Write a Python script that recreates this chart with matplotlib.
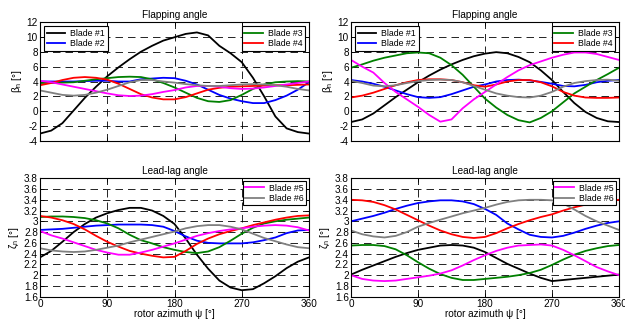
import numpy as np
import matplotlib
matplotlib.use("Agg")
import matplotlib.pyplot as plt
from matplotlib.ticker import FuncFormatter

psi = list(range(0, 361, 15))

# ---- Flapping angle, left panel ----
flap_left = {
    "Blade #1": [-3.0, -2.6, -1.6, 0.1, 1.8, 3.3, 4.7, 5.9, 7.0, 8.0, 8.8, 9.5, 9.95,
                 10.4, 10.6, 10.2, 8.8, 7.8, 6.6, 4.5, 2.0, -0.7, -2.3, -2.8, -3.0],
    "Blade #2": [4.0, 4.0, 4.0, 4.0, 4.05, 4.1, 4.1, 4.0, 4.0, 4.3, 4.4, 4.5, 4.45,
                 4.1, 3.6, 2.9, 2.2, 1.7, 1.35, 1.1, 1.1, 1.5, 2.1, 2.9, 3.9],
    "Blade #3": [3.8, 3.8, 3.85, 3.9, 4.1, 4.3, 4.45, 4.6, 4.65, 4.6, 4.3, 3.8, 3.2,
                 2.5, 1.8, 1.35, 1.25, 1.5, 2.2, 3.0, 3.6, 3.9, 4.0, 4.05, 4.0],
    "Blade #4": [3.5, 3.8, 4.2, 4.5, 4.6, 4.5, 4.25, 3.7, 3.0, 2.3, 1.85, 1.6, 1.6,
                 1.9, 2.4, 2.9, 3.15, 3.3, 3.35, 3.4, 3.45, 3.5, 3.5, 3.55, 3.6],
    "Blade #5": [4.1, 3.9, 3.6, 3.3, 3.0, 2.7, 2.4, 2.15, 2.05, 2.1, 2.3, 2.6, 2.85,
                 3.2, 3.4, 3.4, 3.3, 3.1, 3.0, 3.05, 3.2, 3.4, 3.6, 3.8, 4.0],
    "Blade #6": [2.8, 2.5, 2.2, 2.1, 2.2, 2.5, 2.9, 3.4, 3.9, 4.2, 4.2, 4.0, 3.85,
                 3.65, 3.5, 3.4, 3.4, 3.5, 3.6, 3.65, 3.6, 3.5, 3.3, 3.0, 2.8],
}

# ---- Flapping angle, right panel ----
flap_right = {
    "Blade #1": [-1.45, -1.1, -0.3, 0.8, 1.9, 2.9, 3.9, 4.8, 5.6, 6.3, 6.9, 7.4, 7.75,
                 7.95, 7.8, 7.3, 6.6, 5.5, 4.2, 2.6, 1.1, -0.1, -0.9, -1.35, -1.45],
    "Blade #2": [4.2, 4.0, 3.7, 3.3, 2.8, 2.3, 1.9, 1.8, 1.9, 2.3, 2.8, 3.3, 3.6,
                 4.0, 4.2, 4.25, 4.15, 3.95, 3.7, 3.4, 3.35, 3.55, 3.9, 4.1, 4.2],
    "Blade #3": [5.85, 6.3, 6.8, 7.2, 7.5, 7.8, 7.9, 7.8, 7.2, 6.2, 4.9, 3.3, 1.7,
                 0.5, -0.5, -1.2, -1.5, -0.9, 0.0, 1.2, 2.4, 3.3, 4.2, 5.0, 5.85],
    "Blade #4": [1.85, 2.1, 2.5, 3.0, 3.5, 3.9, 4.2, 4.3, 4.3, 4.2, 3.9, 3.5, 3.3,
                 3.6, 4.0, 4.2, 4.2, 3.9, 3.35, 2.6, 2.1, 1.85, 1.8, 1.8, 1.85],
    "Blade #5": [6.9, 6.0, 5.2, 3.8, 2.6, 1.6, 0.6, -0.5, -1.4, -1.1, 0.4, 1.6, 2.6,
                 3.6, 4.6, 5.5, 6.2, 6.7, 7.2, 7.6, 7.9, 7.9, 7.7, 7.3, 6.9],
    "Blade #6": [4.1, 3.8, 3.45, 3.35, 3.5, 3.8, 4.05, 4.2, 4.25, 4.2, 3.9, 3.4, 2.9,
                 2.4, 2.1, 1.9, 1.85, 2.1, 2.6, 3.3, 3.8, 4.05, 4.2, 4.25, 4.1],
}

# ---- Lead-lag angle, left panel ----
lag_left = {
    "Blade #1": [2.33, 2.45, 2.62, 2.8, 2.95, 3.07, 3.15, 3.21, 3.25, 3.25, 3.2, 3.1, 2.95,
                 2.68, 2.38, 2.12, 1.9, 1.77, 1.72, 1.74, 1.85, 1.98, 2.13, 2.25, 2.33],
    "Blade #2": [2.84, 2.85, 2.86, 2.88, 2.9, 2.92, 2.93, 2.94, 2.94, 2.94, 2.93, 2.9, 2.82,
                 2.72, 2.64, 2.6, 2.59, 2.59, 2.59, 2.61, 2.65, 2.7, 2.78, 2.83, 2.84],
    "Blade #3": [3.08, 3.09, 3.09, 3.08, 3.06, 3.02, 2.96, 2.87, 2.75, 2.65, 2.59, 2.52, 2.47,
                 2.43, 2.41, 2.44, 2.52, 2.64, 2.77, 2.88, 2.96, 3.0, 3.03, 3.05, 3.07],
    "Blade #4": [3.1, 3.07, 3.02, 2.95, 2.85, 2.73, 2.62, 2.53, 2.45, 2.4, 2.36, 2.33, 2.34,
                 2.45, 2.58, 2.68, 2.76, 2.82, 2.87, 2.93, 2.98, 3.03, 3.07, 3.1, 3.11],
    "Blade #5": [2.82, 2.74, 2.68, 2.61, 2.54, 2.47, 2.42, 2.38, 2.38, 2.42, 2.47, 2.53, 2.59,
                 2.66, 2.73, 2.78, 2.82, 2.85, 2.87, 2.9, 2.92, 2.93, 2.92, 2.89, 2.83],
    "Blade #6": [2.5, 2.46, 2.44, 2.43, 2.44, 2.47, 2.51, 2.55, 2.61, 2.66, 2.71, 2.76, 2.81,
                 2.87, 2.91, 2.93, 2.93, 2.9, 2.85, 2.77, 2.69, 2.63, 2.57, 2.52, 2.5],
}

# ---- Lead-lag angle, right panel ----
lag_right = {
    "Blade #1": [2.01, 2.1, 2.18, 2.26, 2.34, 2.41, 2.47, 2.51, 2.55, 2.56, 2.55, 2.51, 2.43,
                 2.32, 2.21, 2.12, 2.03, 1.95, 1.89, 1.91, 1.93, 1.95, 1.97, 1.99, 2.01],
    "Blade #2": [3.0, 3.05, 3.1, 3.16, 3.23, 3.29, 3.34, 3.37, 3.39, 3.39, 3.37, 3.32, 3.23,
                 3.12, 2.96, 2.85, 2.75, 2.71, 2.7, 2.73, 2.79, 2.86, 2.92, 2.97, 3.0],
    "Blade #3": [2.55, 2.56, 2.56, 2.54, 2.48, 2.37, 2.24, 2.12, 2.02, 1.95, 1.91, 1.91, 1.93,
                 1.95, 1.97, 2.0, 2.04, 2.1, 2.19, 2.29, 2.38, 2.45, 2.5, 2.54, 2.56],
    "Blade #4": [3.4, 3.39, 3.36, 3.3, 3.22, 3.12, 3.02, 2.92, 2.83, 2.76, 2.71, 2.69, 2.71,
                 2.78, 2.87, 2.95, 3.02, 3.08, 3.13, 3.2, 3.26, 3.31, 3.35, 3.38, 3.4],
    "Blade #5": [2.0, 1.93, 1.9, 1.89, 1.9, 1.93, 1.96, 1.99, 2.03, 2.09, 2.18, 2.28, 2.37,
                 2.45, 2.51, 2.55, 2.56, 2.57, 2.55, 2.47, 2.37, 2.26, 2.15, 2.07, 2.0],
    "Blade #6": [2.83, 2.76, 2.72, 2.7, 2.73, 2.8, 2.9, 2.97, 3.03, 3.09, 3.15, 3.2, 3.25,
                 3.31, 3.36, 3.39, 3.4, 3.4, 3.39, 3.33, 3.22, 3.1, 3.0, 2.92, 2.84],
}

blade_colors = {
    "Blade #1": "#000000", "Blade #2": "#0000ff", "Blade #3": "#008000",
    "Blade #4": "#ff0000", "Blade #5": "#ff00ff", "Blade #6": "#808080",
}

x_ticks = [0, 90, 180, 270, 360]
flap_ticks = [-4, -2, 0, 2, 4, 6, 8, 10, 12]
lag_ticks = [1.6, 1.8, 2.0, 2.2, 2.4, 2.6, 2.8, 3.0, 3.2, 3.4, 3.6, 3.8]

plt.rcParams['font.family'] = ['Liberation Sans', 'DejaVu Sans']
plt.rcParams['mathtext.fontset'] = 'custom'
plt.rcParams['mathtext.rm'] = 'Liberation Sans'
plt.rcParams['mathtext.it'] = 'Liberation Sans'
FS = 7.2
LFS = 6.3

fig = plt.figure(figsize=(6.25, 3.29), dpi=100)
pos = {
    "tl": [0.064, 0.5714, 0.4304, 0.3617],
    "tr": [0.5616, 0.5714, 0.4288, 0.3617],
    "bl": [0.064, 0.0982, 0.4304, 0.3600],
    "br": [0.5616, 0.0982, 0.4288, 0.3600],
}

def g(v, p):
    return "%g" % round(v, 2)

def setup(ax, yticks, ylabel, title, bottom):
    ax.set_xlim(0, 360)
    ax.set_ylim(yticks[0], yticks[-1])
    ax.set_xticks(x_ticks)
    ax.set_yticks(yticks)
    ax.yaxis.set_major_formatter(FuncFormatter(g))
    ax.tick_params(direction='in', top=True, right=True, labelsize=FS,
                   length=3, width=0.6, pad=1.5)
    if not bottom:
        ax.tick_params(labelbottom=False)
    else:
        ax.set_xlabel("rotor azimuth ψ [°]", fontsize=FS, labelpad=0.5)
    ax.set_ylabel(ylabel, fontsize=FS, labelpad=2)
    ax.set_title(title, fontsize=FS, pad=3)
    ax.grid(True, color='k', linestyle=(0, (9, 6)), linewidth=0.6)
    ax.set_axisbelow(True)
    for s in ax.spines.values():
        s.set_linewidth(0.8)

def draw(ax, data, legend_groups, pad):
    handles = {}
    for name, vals in data.items():
        h, = ax.plot(psi, vals, color=blade_colors[name], linewidth=1.3)
        handles[name] = h
    legs = []
    for names, loc in legend_groups:
        leg = ax.legend([handles[n] for n in names], names, loc=loc, fontsize=LFS,
                        fancybox=False, edgecolor='k', framealpha=1,
                        borderpad=0.3, labelspacing=0.15, handlelength=2.1,
                        handletextpad=0.6, borderaxespad=pad)
        leg.get_frame().set_linewidth(0.8)
        legs.append(leg)
    for leg in legs[:-1]:
        ax.add_artist(leg)

beta_lbl = "β$_n$ [°]"
zeta_lbl = "ζ$_n$ [°]"

for key, data, yt, yl, title, bottom, groups, pad in [
    ("tl", flap_left, flap_ticks, beta_lbl, "Flapping angle", False,
     [(["Blade #1", "Blade #2"], "upper left"), (["Blade #3", "Blade #4"], "upper right")], 0.45),
    ("tr", flap_right, flap_ticks, beta_lbl, "Flapping angle", False,
     [(["Blade #1", "Blade #2"], "upper left"), (["Blade #3", "Blade #4"], "upper right")], 0.45),
    ("bl", lag_left, lag_ticks, zeta_lbl, "Lead-lag angle", True,
     [(["Blade #5", "Blade #6"], "upper right")], 0.3),
    ("br", lag_right, lag_ticks, zeta_lbl, "Lead-lag angle", True,
     [(["Blade #5", "Blade #6"], "upper right")], 0.3),
]:
    ax = fig.add_axes(pos[key])
    setup(ax, yt, yl, title, bottom)
    draw(ax, data, groups, pad)

fig.savefig("out.png", dpi=100)
